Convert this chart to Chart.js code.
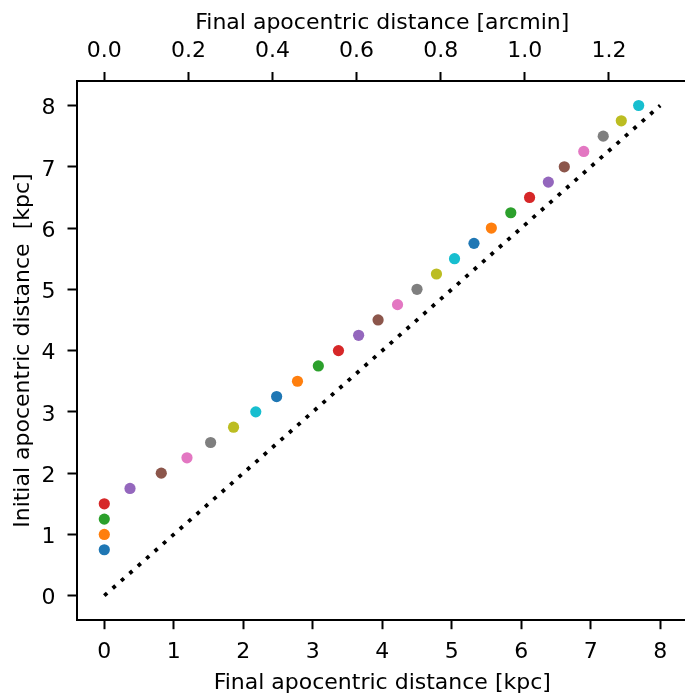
<!DOCTYPE html>
<html>
<head>
<meta charset="utf-8">
<script src="https://cdn.jsdelivr.net/npm/chart.js@4.4.1/dist/chart.umd.min.js"></script>
<style>
  html, body { margin: 0; padding: 0; background: #fff; overflow: hidden; }
  #wrap { position: absolute; left: 0; top: 0; width: 688px; height: 693px; }
</style>
</head>
<body>
<div id="wrap"><canvas id="chart" width="688" height="693"></canvas></div>
<script>
// ---------------- Data ----------------
const initialKpc = [0.75, 1.0, 1.25, 1.5, 1.75, 2.0, 2.25, 2.5, 2.75, 3.0,
                    3.25, 3.5, 3.75, 4.0, 4.25, 4.5, 4.75, 5.0, 5.25, 5.5,
                    5.75, 6.0, 6.25, 6.5, 6.75, 7.0, 7.25, 7.5, 7.75, 8.0];
const finalKpc = [0, 0, 0, 0, 0.37, 0.82, 1.19, 1.53, 1.86, 2.18,
                  2.48, 2.78, 3.08, 3.37, 3.66, 3.94, 4.22, 4.50, 4.78, 5.04,
                  5.32, 5.57, 5.85, 6.12, 6.39, 6.62, 6.90, 7.18, 7.44, 7.69];

// one-to-one reference line
const lineX = [0, 8];
const lineY = [0, 8];

const kpcTicks = [0, 1, 2, 3, 4, 5, 6, 7, 8];
const arcminTicks = [0.0, 0.2, 0.4, 0.6, 0.8, 1.0, 1.2];
const ARCMIN_PER_KPC = 0.16524;

const tab10 = ["#1f77b4", "#ff7f0e", "#2ca02c", "#d62728", "#9467bd",
               "#8c564b", "#e377c2", "#7f7f7f", "#bcbd22", "#17becf"];

// ---------------- Chart ----------------
const FONT = { family: "'DejaVu Sans', sans-serif", size: 22 };
const TITLE_FONT = { family: "'DejaVu Sans', sans-serif", size: 22, lineHeight: 0.9 };

function axisStyle() {
  return {
    grid: { drawOnChartArea: false, drawTicks: true, tickLength: 9, tickWidth: 2, tickColor: "#000", color: "#000" },
    border: { display: true, color: "#000", width: 2 }
  };
}

// keep the plot box exactly where it is in the reference
function fixBox(prop, size) {
  return s => {
    s[prop] = size;
    s.paddingLeft = 0; s.paddingRight = 0; s.paddingTop = 0; s.paddingBottom = 0;
  };
}

const points = initialKpc.map((y, i) => ({ x: finalKpc[i], y }));
const pointColors = initialKpc.map((_, i) => tab10[i % tab10.length]);

new Chart(document.getElementById("chart").getContext("2d"), {
  type: "scatter",
  data: {
    datasets: [
      {
        data: points,
        pointBackgroundColor: pointColors,
        pointBorderWidth: 0,
        pointRadius: 5.6,
        pointHoverRadius: 5.6
      },
      {
        data: lineX.map((x, i) => ({ x, y: lineY[i] })),
        showLine: true,
        borderColor: "#000",
        borderWidth: 3.8,
        borderDash: [3.8, 7.4],
        borderCapStyle: "butt",
        pointRadius: 0,
        fill: false
      }
    ]
  },
  options: {
    responsive: false,
    animation: false,
    devicePixelRatio: 1,
    layout: { padding: 0, autoPadding: false },
    plugins: { legend: { display: false }, tooltip: { enabled: false } },
    scales: {
      x: {
        type: "linear",
        position: "bottom",
        min: -0.4,
        max: 8.4,
        afterBuildTicks: s => { s.ticks = kpcTicks.map(v => ({ value: v })); },
        afterFit: fixBox("height", 72.8),
        ...axisStyle(),
        ticks: { color: "#000", font: FONT, padding: 9.4, maxRotation: 0 },
        title: {
          display: true, text: "Final apocentric distance [kpc]", color: "#000",
          font: TITLE_FONT, padding: { top: 0, bottom: 0.3 }
        }
      },
      x2: {
        type: "linear",
        position: "top",
        min: -0.4 * ARCMIN_PER_KPC,
        max: 8.4 * ARCMIN_PER_KPC,
        afterBuildTicks: s => { s.ticks = arcminTicks.map(v => ({ value: v })); },
        afterFit: fixBox("height", 81),
        ...axisStyle(),
        ticks: { color: "#000", font: FONT, padding: 7.6, maxRotation: 0, callback: v => v.toFixed(1) },
        title: {
          display: true, text: "Final apocentric distance [arcmin]", color: "#000",
          font: TITLE_FONT, padding: { top: 13.6, bottom: 0 }
        }
      },
      y: {
        type: "linear",
        position: "left",
        min: -0.4,
        max: 8.4,
        afterBuildTicks: s => { s.ticks = kpcTicks.map(v => ({ value: v })); },
        afterFit: fixBox("width", 76.5),
        ...axisStyle(),
        ticks: { color: "#000", font: FONT, padding: 12, labelOffset: 3 },
        title: {
          display: true, text: "Initial apocentric distance  [kpc]", color: "#000",
          font: TITLE_FONT, padding: { top: 13, bottom: 0 }
        }
      }
    }
  }
});
</script>
</body>
</html>
